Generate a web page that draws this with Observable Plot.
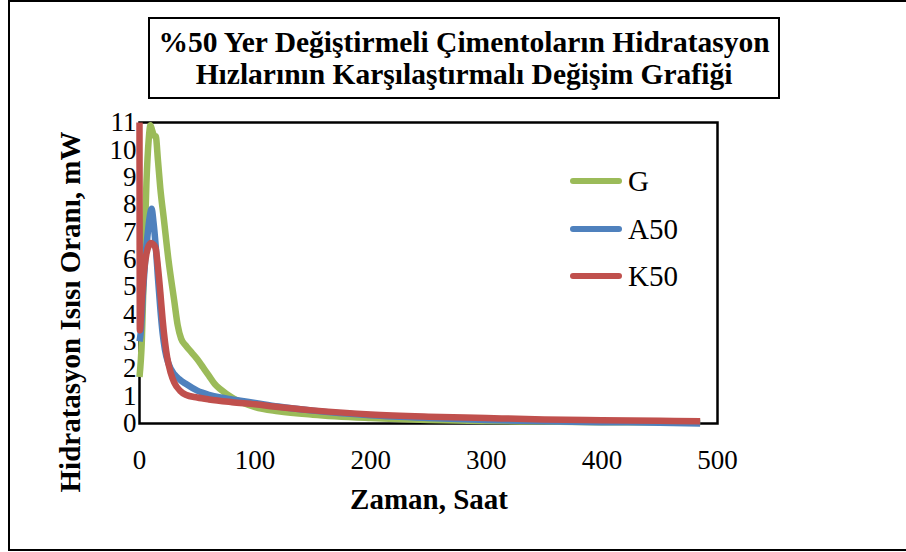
<!DOCTYPE html>
<html><head><meta charset="utf-8">
<script src="https://cdn.jsdelivr.net/npm/d3@7"></script>
<script src="https://cdn.jsdelivr.net/npm/@observablehq/plot@0.6"></script>
<style>
html,body{margin:0;padding:0;background:#fff;overflow:hidden;}
#wrap{position:relative;width:906px;height:552px;overflow:hidden;font-family:"Liberation Serif","Times New Roman",serif;color:#000;}
#chart{position:absolute;left:0;top:0;}
#outer{position:absolute;left:8px;top:0;width:1000px;height:547px;border:2px solid #000;pointer-events:none;}
#title{position:absolute;left:148px;top:17px;width:628px;height:78px;border:2px solid #000;font-weight:bold;font-size:29.5px;line-height:32px;text-align:center;box-sizing:content-box;}
#title div{white-space:nowrap;}
.ax{position:absolute;font-weight:bold;font-size:29px;white-space:nowrap;}
#xt{left:429px;top:499px;transform:translate(-50%,-50%);}
#yt{left:70px;top:312px;transform:translate(-50%,-50%) rotate(-90deg);}
.leg{position:absolute;left:570px;height:0;}
.leg .ln{position:absolute;left:0;top:-3px;width:52px;height:6px;border-radius:3px;}
.leg .tx{position:absolute;left:58px;top:-17px;font-size:29px;line-height:34px;white-space:nowrap;}
</style>
</head><body>
<div id="wrap">
  <div id="chart"></div>
  <div id="title"><div style="margin-top:7px">%50 Yer Değiştirmeli Çimentoların Hidratasyon</div><div>Hızlarının Karşılaştırmalı Değişim Grafiği</div></div>
  <div class="ax" id="yt">Hidratasyon Isısı Oranı, mW</div>
  <div class="ax" id="xt">Zaman, Saat</div>
  <div id="legend"></div>
  <div id="outer"></div>
</div>
<script>
// Series names and colours
const seriesNames = ["G", "A50", "K50"];
const seriesColors = ["#9BBB59", "#4F81BD", "#C0504D"];

// G
const timeG = [0, 2, 4, 6, 8, 9.5, 11, 13, 14, 16, 18, 21, 25, 30, 33, 36, 40, 45, 50, 55, 60, 65, 70, 80, 90, 100, 120, 150, 200, 250, 300, 350, 400, 450, 485];
const valG  = [1.7, 3.0, 6.0, 8.8, 10.4, 10.9, 10.7, 10.5, 10.5, 9.6, 8.6, 7.5, 6.0, 4.5, 3.6, 3.1, 2.85, 2.6, 2.35, 2.05, 1.75, 1.45, 1.25, 0.95, 0.75, 0.6, 0.45, 0.32, 0.2, 0.13, 0.09, 0.07, 0.05, 0.05, 0.04];

// A50
const timeA = [0, 1, 3, 5, 7, 9, 10.5, 12, 14, 16, 18, 20, 22, 25, 30, 35, 40, 50, 60, 70, 80, 100, 120, 150, 200, 250, 300, 350, 400, 450, 485];
const valA  = [3.0, 3.3, 4.8, 6.0, 6.9, 7.6, 7.85, 7.4, 6.5, 5.3, 4.2, 3.3, 2.7, 2.2, 1.8, 1.6, 1.45, 1.2, 1.05, 0.95, 0.88, 0.75, 0.62, 0.47, 0.3, 0.2, 0.13, 0.08, 0.05, 0.03, 0.0];

// K50
const timeK = [0, 0.3, 2, 4, 6, 8, 10, 12, 14, 16, 18, 20, 22, 24, 27, 30, 35, 40, 50, 60, 80, 100, 120, 150, 200, 250, 300, 350, 400, 450, 485];
const valK  = [11, 3.4, 4.5, 5.6, 6.2, 6.5, 6.6, 6.55, 6.4, 5.7, 4.8, 3.8, 3.0, 2.4, 1.85, 1.5, 1.2, 1.05, 0.95, 0.88, 0.78, 0.7, 0.6, 0.48, 0.33, 0.25, 0.2, 0.15, 0.12, 0.1, 0.08];

// Tick labels
const xTicks = [0, 100, 200, 300, 400, 500];
const yTicks = [0, 1, 2, 3, 4, 5, 6, 7, 8, 9, 10, 11];

const times = [timeG, timeA, timeK];
const vals = [valG, valA, valK];
const data = [];
seriesNames.forEach((s, i) => times[i].forEach((t, j) => data.push({series: s, t, v: vals[i][j]})));

const chart = Plot.plot({
  width: 906,
  height: 552,
  marginLeft: 139,
  marginRight: 189,
  marginTop: 122,
  marginBottom: 129,
  style: {fontFamily: '"Liberation Serif","Times New Roman",serif', fontSize: "27px", color: "#000", background: "transparent"},
  x: {domain: [0, 500]},
  y: {domain: [0, 11]},
  color: {domain: seriesNames, range: seriesColors},
  marks: [
    Plot.frame({stroke: "#000", strokeWidth: 2.5}),
    Plot.axisX({ticks: xTicks, tickSize: 0, tickPadding: 26, label: null, tickFormat: d => String(d)}),
    Plot.axisY({ticks: yTicks, tickSize: 0, tickPadding: 3, label: null, tickFormat: d => String(d)}),
    Plot.line(data, {x: "t", y: "v", z: "series", stroke: "series", strokeWidth: 6.5, strokeLinejoin: "round", strokeLinecap: "butt", curve: "monotone-x"})
  ]
});
document.getElementById("chart").appendChild(chart);

// Legend
const legY = [181, 229, 276];
const leg = document.getElementById("legend");
seriesNames.forEach((s, i) => {
  const d = document.createElement("div");
  d.className = "leg";
  d.style.top = legY[i] + "px";
  d.innerHTML = `<div class="ln" style="background:${seriesColors[i]}"></div><div class="tx">${s}</div>`;
  leg.appendChild(d);
});
</script>
</body></html>
